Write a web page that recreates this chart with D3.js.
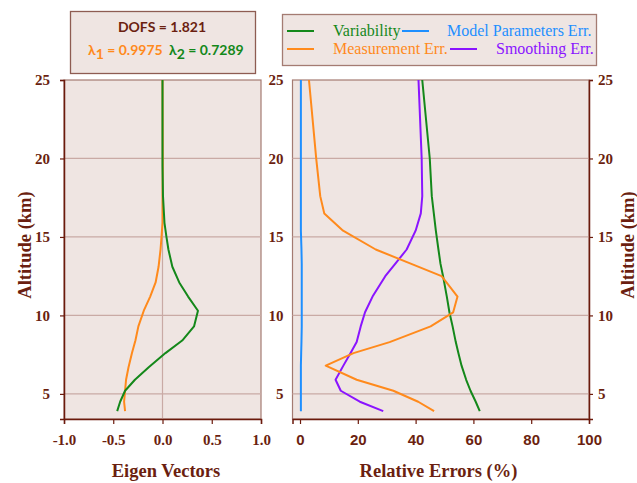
<!DOCTYPE html>
<html><head><meta charset="utf-8">
<script src="https://cdn.jsdelivr.net/npm/d3@7"></script>
<style>body{margin:0;background:#fff}svg{display:block}</style>
</head><body><svg id="c" width="637" height="483"></svg>
<script>
// ---- data ----
const eigAltitudes = [3.9, 4.5, 5.2, 5.9, 6.7, 7.6, 8.4, 9.3, 10.3, 11.2, 12.1, 13.1, 14.2, 15.0, 15.9, 17.6, 19.5, 25];
const eigVector1   = [-0.38, -0.39, -0.38, -0.37, -0.345, -0.31, -0.275, -0.245, -0.19, -0.125, -0.07, -0.04, -0.02, -0.01, 0.0, 0.0, 0.003, 0.0];
const eigVector2   = [-0.46, -0.43, -0.38, -0.28, -0.14, 0.03, 0.20, 0.32, 0.36, 0.26, 0.17, 0.10, 0.06, 0.04, 0.02, 0.005, 0.0, 0.0];

const errAltitudes   = [3.9, 4.5, 5.2, 5.9, 6.8, 7.6, 8.3, 9.3, 10.2, 11.2, 12.5, 13.3, 14.2, 15.4, 16.5, 17.6, 20, 25];
const variabilityErr = [62.2, 60.8, 59.0, 57.5, 55.9, 54.8, 53.9, 52.8, 51.7, 50.8, 49.5, 48.6, 47.9, 47.0, 46.3, 45.6, 44.9, 42.3];
const measurementErr = [46.4, 40.9, 32.3, 19.6, 8.9, 18.5, 31.0, 45.2, 53.0, 54.5, 49.0, 38.3, 26.2, 14.9, 8.4, 7.0, 5.6, 3.1];
const smoothingErr   = [28.8, 20.7, 14.1, 12.3, 15.0, 17.5, 19.6, 21.0, 22.5, 25.1, 29.5, 33.0, 36.9, 40.0, 41.8, 42.3, 42.1, 41.0];
const modelParamErr  = [0.3, 0.3, 0.3, 0.3, 0.3, 0.4, 0.5, 0.6, 0.6, 0.6, 0.6, 0.6, 0.5, 0.3, 0.3, 0.3, 0.3, 0.3];

const altTicks = [5, 10, 15, 20, 25];
const eigTicks = [-1.0, -0.5, 0.0, 0.5, 1.0];
const eigTickLabels = ["-1.0", "-0.5", "0.0", "0.5", "1.0"];
const errTicks = [0, 20, 40, 60, 80, 100];
const legendLabels = ["Variability", "Model Parameters Err.", "Measurement Err.", "Smoothing Err."];
const dofs = "1.821", lambda1 = "0.9975", lambda2 = "0.7289";

// ---- style ----
const C = {green:"#14881a", orange:"#ff8a1c", blue:"#1e8fff", purple:"#8a14ff",
  axis:"#6b1a0c", text:"#6b1f10", bg:"#efe5e2", grid:"#c9aaa5", frame:"#a47b72"};
const serif = "'Liberation Serif','Times New Roman',serif";
const sans = "'Liberation Sans',Arial,sans-serif";

const svg = d3.select("#c");
const y = d3.scaleLinear().domain([3.4, 25]).range([419, 80]);
const xE = d3.scaleLinear().domain([-1, 1]).range([64, 261]);
const xR = d3.scaleLinear().domain([-2.6, 100]).range([292.5, 589]);

function panel(x, gridX) {
  const [x0, x1] = x.range();
  svg.append("rect").attr("x", x0).attr("y", 80).attr("width", x1 - x0).attr("height", 339)
    .attr("fill", C.bg).attr("stroke", C.frame).attr("stroke-width", 1.2);
  svg.append("g").selectAll("line").data(altTicks.filter(d => d < 25)).join("line")
    .attr("x1", x0).attr("x2", x1).attr("y1", d => y(d)).attr("y2", d => y(d))
    .attr("stroke", C.grid).attr("stroke-width", 1.2);
  if (gridX !== undefined) {
    svg.append("line").attr("x1", x(gridX)).attr("x2", x(gridX)).attr("y1", 80).attr("y2", 419)
      .attr("stroke", C.grid).attr("stroke-width", 1.2);
  }
}
panel(xE, 0);
panel(xR);

const line = (xs, alts, vals) => d3.line().x((d, i) => xs(vals[i])).y((d, i) => y(alts[i]))(vals);
function series(xs, alts, vals, color) {
  svg.append("path").attr("d", line(xs, alts, vals)).attr("fill", "none")
    .attr("stroke", color).attr("stroke-width", 2).attr("stroke-linejoin", "round");
}
series(xE, eigAltitudes, eigVector1, C.orange);
series(xE, eigAltitudes, eigVector2, C.green);
series(xR, errAltitudes, modelParamErr, C.blue);
series(xR, errAltitudes, variabilityErr, C.green);
series(xR, errAltitudes, smoothingErr, C.purple);
series(xR, errAltitudes, measurementErr, C.orange);

function styleAxis(g, font) {
  g.selectAll(".domain").attr("stroke", C.axis).attr("stroke-width", 1.5);
  g.selectAll(".tick line").attr("stroke", C.axis).attr("stroke-width", 1.2);
  g.selectAll("text").attr("fill", C.text).attr("font-family", font)
    .attr("font-weight", "bold").attr("font-size", 15);
}
// left panel axes
styleAxis(svg.append("g").attr("transform", "translate(0,419)")
  .call(d3.axisBottom(xE).tickValues(eigTicks).tickFormat((d, i) => eigTickLabels[i]).tickSizeOuter(0).tickSize(5).tickPadding(10)), serif);
styleAxis(svg.append("g").attr("transform", "translate(64,0)")
  .call(d3.axisLeft(y).tickValues(altTicks).tickSizeOuter(0).tickSize(4).tickPadding(10)), serif);
// right panel axes
styleAxis(svg.append("g").attr("transform", "translate(0,419)")
  .call(d3.axisBottom(xR).tickValues(errTicks).tickSizeOuter(0).tickSize(5).tickPadding(10)), sans);
styleAxis(svg.append("g").attr("transform", "translate(589,0)")
  .call(d3.axisRight(y).tickValues(altTicks).tickSizeOuter(0).tickSize(4).tickPadding(5)), serif);
const gl = svg.append("g").attr("transform", "translate(292.5,0)")
  .call(d3.axisLeft(y).tickValues(altTicks).tickSizeOuter(0).tickSize(0).tickPadding(9));
styleAxis(gl, serif);
gl.select(".domain").remove();

// axis titles
const title = (x, yy, t, rot) => svg.append("text").attr("transform", `translate(${x},${yy})` + (rot ? ` rotate(${rot})` : ""))
  .attr("text-anchor", "middle").attr("fill", C.text).attr("font-family", serif)
  .attr("font-weight", "bold").attr("font-size", 18.5).text(t);
title(166, 477, "Eigen Vectors");
title(438.5, 477, "Relative Errors (%)");
title(31, 245, "Altitude (km)", -90);
title(634, 245, "Altitude (km)", -90);

// info box
svg.append("rect").attr("x", 70.5).attr("y", 11.5).attr("width", 185).attr("height", 62)
  .attr("fill", C.bg).attr("stroke", "#8e5c52").attr("stroke-width", 1.3);
svg.append("text").attr("x", 162).attr("y", 32).attr("text-anchor", "middle").attr("font-family", "Lato,'Open Sans',sans-serif")
  .attr("font-weight", "bold").attr("font-size", 14).attr("fill", C.text).text("DOFS = " + dofs);
function lam(x, sub, val, color) {
  const t = svg.append("text").attr("x", x).attr("y", 55).attr("font-family", "Lato,'Open Sans',sans-serif")
    .attr("font-weight", "bold").attr("font-size", 14).attr("fill", color);
  t.append("tspan").text("λ");
  t.append("tspan").attr("dy", 4).attr("font-size", 14).text(sub);
  t.append("tspan").attr("dy", -4).text(" = " + val);
}
lam(88, "1", lambda1, C.orange);
lam(169, "2", lambda2, C.green);

// legend
svg.append("rect").attr("x", 282.5).attr("y", 14.5).attr("width", 314).attr("height", 51)
  .attr("fill", C.bg).attr("stroke", "#a47b72").attr("stroke-width", 1.3);
const leg = [
  {lx: 287, tx: 333, yy: 31, c: C.green, t: legendLabels[0]},
  {lx: 402, tx: 447, yy: 31, c: C.blue, t: legendLabels[1]},
  {lx: 287, tx: 333, yy: 49, c: C.orange, t: legendLabels[2]},
  {lx: 450, tx: 496, yy: 49, c: C.purple, t: legendLabels[3]}
];
leg.forEach(d => {
  svg.append("line").attr("x1", d.lx).attr("x2", d.lx + 27).attr("y1", d.yy).attr("y2", d.yy)
    .attr("stroke", d.c).attr("stroke-width", 2);
  svg.append("text").attr("x", d.tx).attr("y", d.yy + 5).attr("font-family", serif)
    .attr("font-size", 16).attr("fill", d.c).text(d.t);
});
</script></body></html>
